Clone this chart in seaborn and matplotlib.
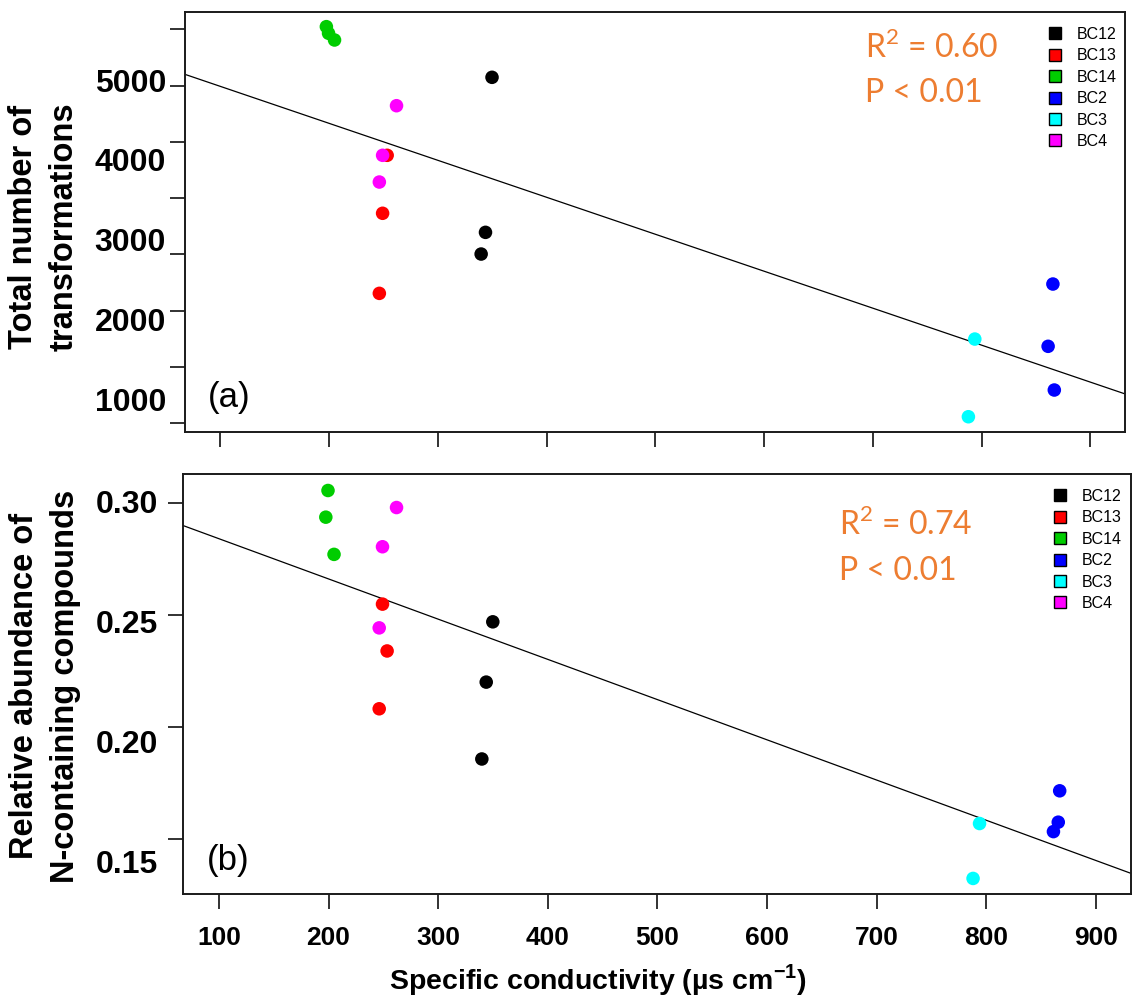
import numpy as np
import pandas as pd
import seaborn as sns
import matplotlib.pyplot as plt
from matplotlib.lines import Line2D

# Sites and their colours (old R default palette)
sites = ['BC12', 'BC13', 'BC14', 'BC2', 'BC3', 'BC4']
site_colors = ['black', '#FF0000', '#00CD00', '#0000FF', '#00FFFF', '#FF00FF']

# Samples
sample_site = (['BC12'] * 3 + ['BC13'] * 3 + ['BC14'] * 3 +
               ['BC2'] * 3 + ['BC3'] * 2 + ['BC4'] * 3)
conductivity = [349.8, 343.8, 339.8,
                253.4, 249.2, 246.2,
                197.5, 199.5, 205.0,
                865.5, 861.1, 866.8,
                793.7, 787.8,
                262.0, 249.2, 246.2]
transformations = [5034, 3090, 2818,
                   4056, 3329, 2325,
                   5669, 5586, 5502,
                   2442, 1661, 1113,
                   1752, 778,
                   4678, 4056, 3721]
n_abundance = [0.2469, 0.2200, 0.1857,
               0.2339, 0.2548, 0.2081,
               0.2936, 0.3055, 0.2770,
               0.1575, 0.1533, 0.1715,
               0.1569, 0.1324,
               0.2979, 0.2804, 0.2442]

stats_a = ['R$^2$ = 0.60', 'P < 0.01']
stats_b = ['R$^2$ = 0.74', 'P < 0.01']

# Axis ticks (the labels were pasted on and do not sit on the tick marks)
x_ticks = [100, 200, 300, 400, 500, 600, 700, 800, 900]
y_labels_a = ['1000', '2000', '3000', '4000', '5000']
y_label_pos_a = [1000, 2000, 3000, 4000, 5000]
y_marks_a = [700, 1405, 2110, 2815, 3520, 4225, 4930, 5635]
y_labels_b = ['0.15', '0.20', '0.25', '0.30']
y_label_pos_b = [0.1399, 0.1934, 0.2470, 0.3006]
y_marks_b = [0.15, 0.20, 0.25, 0.30]

df = pd.DataFrame({'site': sample_site, 'conductivity': conductivity,
                   'transformations': transformations, 'n_abundance': n_abundance})

sns.set_style('ticks')
plt.rcParams['font.family'] = ['Liberation Sans', 'DejaVu Sans']
plt.rcParams['mathtext.fontset'] = 'custom'
plt.rcParams['mathtext.rm'] = 'Lato'
plt.rcParams['mathtext.bf'] = 'Liberation Sans:bold'
for key in ['text.color', 'axes.labelcolor', 'xtick.labelcolor', 'ytick.labelcolor']:
    plt.rcParams[key] = 'black'

palette = dict(zip(sites, site_colors))
xlim = (67.5, 931.8)

fig = plt.figure(figsize=(11.44, 10.05), dpi=100)
ax1 = fig.add_axes([0.1617, 0.5701, 0.8217, 0.4182])
ax2 = fig.add_axes([0.1602, 0.1101, 0.8284, 0.4179])


def draw_panel(ax, ycol, ylim, label_pos, labels, marks, label_pad, stats, stats_xy, tag, leg_xy):
    ax.set_xlim(xlim)
    ax.set_ylim(ylim)
    sns.regplot(data=df, x='conductivity', y=ycol, scatter=False, ci=None, truncate=False,
                color='black', line_kws={'lw': 0.9, 'zorder': 2}, ax=ax)
    sns.scatterplot(data=df, x='conductivity', y=ycol, hue='site', hue_order=sites,
                    palette=palette, s=95, linewidth=0, legend=False, ax=ax, zorder=3)
    ax.set_xlim(xlim)
    ax.set_ylim(ylim)

    ax.set_xticks(x_ticks)
    ax.tick_params(axis='x', length=10.8, width=1.3, color='#222222', pad=12)
    ax.set_yticks(label_pos)
    ax.set_yticklabels(labels, fontsize=23, fontweight='bold')
    ax.set_yticks(marks, minor=True)
    ax.tick_params(axis='y', which='major', length=0, pad=label_pad)
    ax.tick_params(axis='y', which='minor', left=True, length=10.8, width=1.3, color='#222222')
    for sp in ax.spines.values():
        sp.set_visible(True)
        sp.set_linewidth(1.4)
        sp.set_color('#1a1a1a')

    ax.text(stats_xy[0], stats_xy[1], stats[0], transform=ax.transAxes, fontsize=23,
            color='#ED7D31', family='Lato', va='baseline')
    ax.text(stats_xy[0], stats_xy[2], stats[1], transform=ax.transAxes, fontsize=23,
            color='#ED7D31', family='Lato', va='baseline')
    ax.text(0.0245, tag[1], tag[0], transform=ax.transAxes, fontsize=25, va='center', ha='left')

    handles = [Line2D([], [], ls='', marker='s', markersize=9, markerfacecolor=c,
                      markeredgecolor='black', markeredgewidth=1.0) for c in site_colors]
    ax.legend(handles, sites, loc='upper left', bbox_to_anchor=leg_xy, frameon=False,
              fontsize=11.5, handlelength=1.0, handletextpad=0.85, labelspacing=0.4,
              borderpad=0, borderaxespad=0, labelcolor='black')


draw_panel(ax1, 'transformations', (586, 5856), y_label_pos_a, y_labels_a, y_marks_a, 13.7,
           stats_a, (0.723, 0.8898, 0.7859), ('(a)', 0.0833), (0.917, 0.9636))
draw_panel(ax2, 'n_abundance', (0.1253, 0.3127), y_label_pos_b, y_labels_b, y_marks_b, 18,
           stats_b, (0.6922, 0.8555, 0.7483), ('(b)', 0.0817), (0.9164, 0.965))

ax1.tick_params(axis='x', labelbottom=False)
ax1.set_xlabel('')
ax2.set_xticklabels([str(t) for t in x_ticks], fontsize=19, fontweight='bold')

ax1.set_ylabel('Total number of\ntransformations', fontsize=23.5, fontweight='bold', linespacing=1.4)
ax1.yaxis.set_label_coords(-0.150, 0.4878)
ax1.yaxis.label.set_va('center')
ax2.set_ylabel('Relative abundance of\nN-containing compounds', fontsize=23.5, fontweight='bold',
               linespacing=1.4)
ax2.yaxis.set_label_coords(-0.146, 0.496)
ax2.yaxis.label.set_va('center')
ax2.set_xlabel('Specific conductivity (µs cm$^{\\mathbf{-1}}$)', fontsize=20.5, fontweight='bold')
ax2.xaxis.set_label_coords(0.4376, -0.204)
ax2.xaxis.label.set_va('center')

fig.savefig('out.png', dpi=100)
